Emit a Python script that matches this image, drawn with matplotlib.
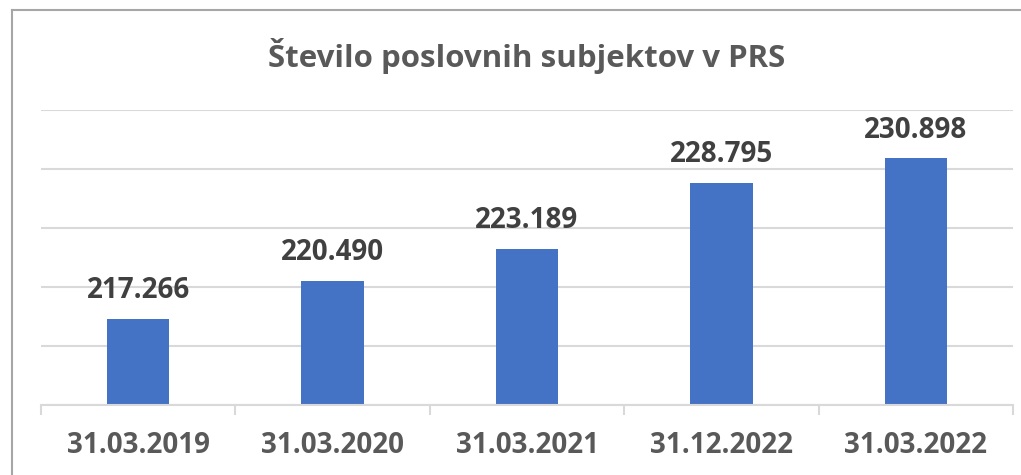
import matplotlib.pyplot as plt
from matplotlib.lines import Line2D

plt.rcParams['font.family'] = ['Open Sans', 'DejaVu Sans']

dates = ['31.03.2019', '31.03.2020', '31.03.2021', '31.12.2022', '31.03.2022']
counts = [217266, 220490, 223189, 228795, 230898]
value_labels = ['217.266', '220.490', '223.189', '228.795', '230.898']

bar_color = '#4472C4'
grid_color = '#D9D9D9'
text_gray = '#595959'

fig = plt.figure(figsize=(10.21, 4.75), dpi=100)
ax = fig.add_axes([41 / 1021, 70 / 475, 972 / 1021, 295 / 475])

x = list(range(len(dates)))
ax.bar(x, counts, width=0.32, color=bar_color, zorder=3)

ax.set_ylim(210000, 235000)
ax.set_xlim(-0.5, len(dates) - 0.5)
ax.set_yticks(range(210000, 235001, 5000))
ax.yaxis.grid(True, color=grid_color, linewidth=1.5)
ax.tick_params(axis='y', left=False, labelleft=False)

for s in ['top', 'right', 'left']:
    ax.spines[s].set_visible(False)
ax.spines['bottom'].set_color(grid_color)
ax.spines['bottom'].set_linewidth(1.5)
ax.spines['bottom'].set_zorder(4)

# category labels centred, tick marks on the category boundaries
ax.set_xticks(x)
ax.set_xticklabels(dates, fontsize=20, fontweight='bold', color=text_gray)
ax.tick_params(axis='x', which='major', length=0, pad=19)
ax.set_xticks([i - 0.5 for i in range(len(dates) + 1)], minor=True)
ax.tick_params(axis='x', which='minor', length=7, width=1.5, color=grid_color)

for xi, v, lab in zip(x, counts, value_labels):
    ax.annotate(lab, (xi, v), xytext=(0, 10), textcoords='offset points',
                ha='center', va='bottom', fontsize=20, fontweight='bold',
                color='#404040')

fig.text(527 / 1021, 1 - 56 / 475, 'Število poslovnih subjektov v PRS',
         ha='center', va='center', fontsize=22.5, fontweight='bold',
         color=text_gray)

# chart frame (only left and top edges are visible in the crop)
fig.add_artist(Line2D([12 / 1021, 12 / 1021], [0, 1 - 10 / 475],
                      transform=fig.transFigure, color='#A6A6A6', lw=1.5))
fig.add_artist(Line2D([12 / 1021, 1], [1 - 10 / 475, 1 - 10 / 475],
                      transform=fig.transFigure, color='#A6A6A6', lw=1.5))

fig.savefig('out.png', dpi=100)
